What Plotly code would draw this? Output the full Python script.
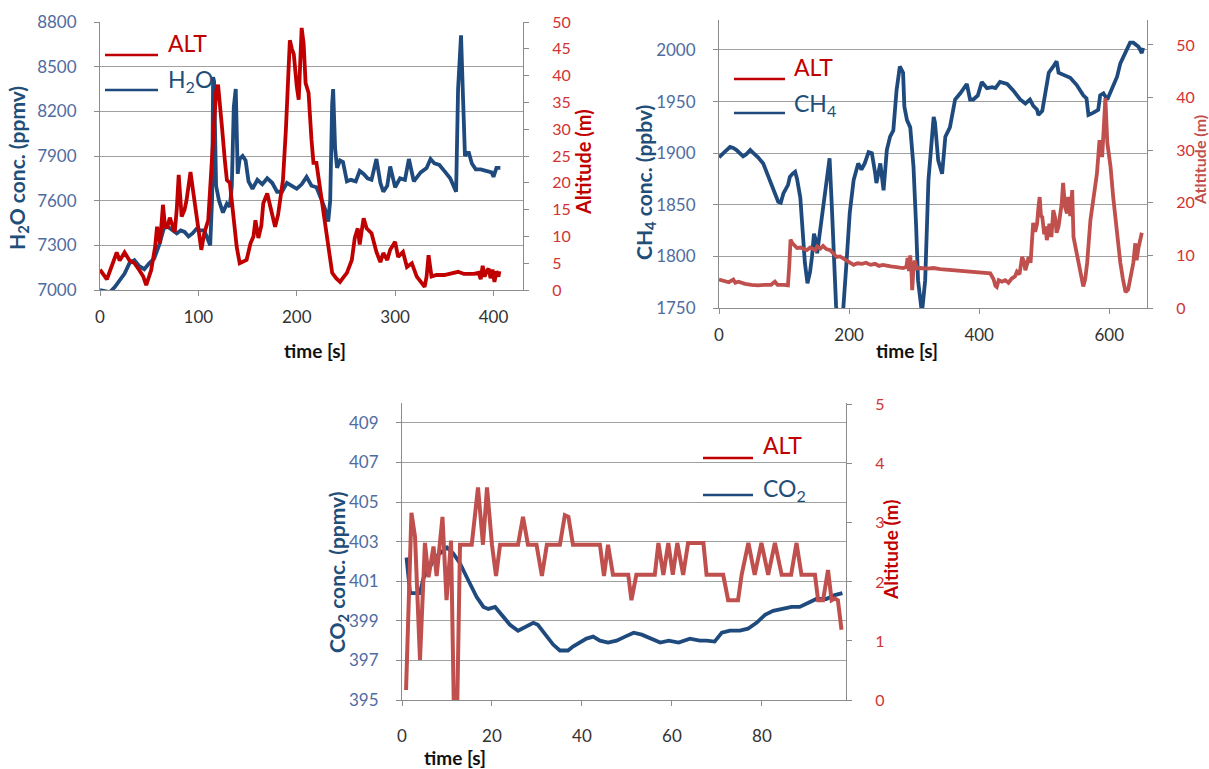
import plotly.graph_objects as go

W, H = 1209, 769

# ---------------- H2O flight ----------------
h2o_time = [0, 5, 10, 15, 20, 25, 30, 35, 40, 45,
            50, 55, 60, 63, 66, 70, 74, 78, 82, 86,
            90, 94, 98, 102, 106, 109, 112, 114, 115, 116,
            118, 121, 125, 129, 132, 134, 136, 138, 140, 142,
            145, 148, 151, 155, 160, 165, 170, 175, 180, 185,
            190, 195, 200, 205, 210, 215, 220, 225, 229, 232,
            234, 236, 237, 239, 241, 244, 247, 251, 255, 260,
            264, 268, 272, 276, 281, 285, 288, 292, 295, 300,
            305, 310, 314, 319, 323, 326, 332, 336, 340, 345,
            350, 356, 360, 362, 364, 366, 367, 369, 371, 373,
            375, 378, 382, 387, 393, 398, 400, 403, 407]
h2o_ppmv = [7000, 6990, 6985, 7020, 7060, 7110, 7180, 7200, 7160, 7140,
            7180, 7210, 7300, 7380, 7440, 7420, 7400, 7380, 7400, 7390,
            7360, 7380, 7410, 7400, 7400, 7340, 7300, 7620, 8430, 8400,
            7700, 7600, 7520, 7580, 7560, 7700, 8230, 8350, 7780, 7880,
            7900, 7870, 7730, 7680, 7740, 7710, 7750, 7720, 7660, 7660,
            7720, 7700, 7680, 7710, 7760, 7700, 7690, 7610, 7540, 7460,
            7600, 8250, 8350, 7950, 7820, 7870, 7860, 7730, 7740, 7730,
            7800, 7780, 7750, 7740, 7880, 7720, 7660, 7700, 7830, 7690,
            7750, 7740, 7880, 7730, 7770, 7790, 7820, 7880, 7850, 7840,
            7800, 7750, 7690, 7660, 8350, 8550, 8710, 8300, 7900, 7920,
            7920, 7850, 7810, 7810, 7800, 7790, 7760, 7820, 7820]

h2o_alt_time = [0, 3, 7, 10, 13, 17, 20, 25, 30, 35,
                40, 44, 47, 50, 52, 56, 58, 61, 64, 66,
                68, 71, 73, 76, 78, 80, 83, 86, 88, 92,
                95, 98, 100, 103, 106, 110, 113, 116, 118, 120,
                122, 124, 127, 129, 132, 135, 137, 139, 142, 146,
                149, 153, 156, 158, 161, 164, 166, 170, 173, 175,
                178, 181, 183, 186, 189, 191, 193, 195, 197, 200,
                202, 205, 207, 209, 212, 215, 217, 220, 222, 224,
                227, 230, 232, 236, 240, 244, 248, 251, 256, 259,
                262, 264, 266, 268, 271, 276, 281, 285, 288, 292,
                295, 300, 303, 308, 312, 317, 322, 327, 330, 332,
                334, 337, 342, 350, 356, 364, 370, 380, 385, 387,
                389, 391, 393, 395, 397, 399, 401, 403, 405, 406]
h2o_alt_m = [3.8, 3.0, 2.0, 3.5, 5.0, 7.0, 5.5, 7.0, 5.5, 5.0,
             3.7, 2.5, 0.9, 2.5, 3.7, 8.0, 11.8, 8.7, 15.9, 12.0,
             11.5, 13.5, 12.5, 10.8, 15.0, 21.5, 13.7, 15.0, 16.8, 22.0,
             18.0, 14.0, 11.2, 7.5, 10.6, 13.0, 22.0, 33.0, 37.0, 38.3,
             35.0, 30.4, 24.0, 20.5, 20.0, 14.3, 10.0, 8.0, 5.0, 5.3,
             5.6, 8.7, 10.0, 13.0, 9.7, 12.0, 16.2, 18.0, 15.5, 13.7,
             11.8, 14.0, 16.8, 20.5, 30.0, 40.0, 46.6, 45.0, 44.0, 38.0,
             35.5, 48.9, 46.0, 38.6, 36.8, 28.0, 23.7, 23.7, 21.0, 19.0,
             14.3, 10.0, 8.0, 3.2, 2.2, 1.5, 2.5, 3.2, 5.6, 9.7,
             11.5, 8.5, 11.0, 13.4, 11.5, 10.6, 7.1, 5.2, 6.9, 5.6,
             7.5, 9.0, 6.2, 7.1, 4.3, 5.0, 2.5, 1.3, 0.6, 2.5,
             6.5, 2.5, 2.8, 2.8, 3.0, 3.4, 3.0, 3.0, 3.2, 2.0,
             4.5, 2.5, 3.5, 4.0, 2.2, 3.8, 1.5, 3.5, 2.5, 3.5]

# ---------------- CH4 flight ----------------
ch4_time = [0, 4, 10, 17, 22, 27, 32, 37, 42, 48,
            53, 60, 68, 76, 84, 91, 95, 99, 106, 109,
            113, 117, 120, 122, 125, 128, 132, 136, 140, 143,
            146, 149, 151, 155, 160, 164, 166, 170, 173, 176,
            180, 185, 190, 196, 201, 207, 209, 214, 219, 224,
            230, 235, 240, 242, 248, 253, 258, 263, 268, 273,
            278, 283, 285, 289, 294, 299, 303, 306, 312, 317,
            322, 326, 330, 332, 337, 343, 348, 355, 363, 371,
            378, 381, 386, 391, 398, 404, 412, 420, 425, 432,
            443, 452, 463, 471, 478, 483, 489, 491, 497, 502,
            507, 514, 519, 522, 529, 540, 550, 560, 565, 568,
            575, 583, 586, 591, 597, 604, 612, 617, 625, 632,
            637, 645, 650, 652]
ch4_ppbv = [1896, 1898, 1902, 1906, 1905, 1903, 1900, 1897, 1899, 1903,
            1900, 1896, 1890, 1877, 1864, 1853, 1852, 1861, 1869, 1877,
            1880, 1882, 1875, 1867, 1857, 1830, 1794, 1774, 1785, 1800,
            1822, 1815, 1803, 1823, 1848, 1867, 1874, 1895, 1855, 1809,
            1752, 1725, 1740, 1794, 1842, 1874, 1879, 1890, 1884, 1890,
            1901, 1900, 1881, 1871, 1890, 1864, 1903, 1916, 1922, 1961,
            1984, 1978, 1945, 1932, 1925, 1887, 1830, 1777, 1745, 1777,
            1874, 1906, 1935, 1930, 1893, 1880, 1916, 1925, 1952, 1958,
            1964, 1967, 1952, 1952, 1956, 1969, 1963, 1964, 1963, 1969,
            1967, 1961, 1952, 1948, 1952, 1946, 1942, 1937, 1941, 1958,
            1978, 1984, 1989, 1978, 1976, 1973, 1966, 1956, 1953, 1937,
            1939, 1942, 1956, 1958, 1952, 1963, 1974, 1987, 1997, 2007,
            2007, 2003, 1997, 2002]

ch4_alt_time = [0, 5, 10, 15, 22, 25, 30, 40, 50, 60,
                70, 80, 86, 90, 100, 106, 108, 110, 113, 116,
                120, 125, 130, 135, 140, 143, 148, 151, 156, 160,
                165, 171, 176, 181, 186, 190, 196, 202, 207, 213,
                220, 226, 233, 240, 246, 252, 258, 264, 270, 276,
                283, 288, 290, 292, 294, 296, 297, 299, 301, 304,
                310, 320, 330, 340, 350, 360, 370, 380, 390, 400,
                410, 417, 422, 425, 427, 430, 435, 440, 445, 450,
                455, 458, 462, 466, 469, 471, 474, 476, 479, 481,
                483, 486, 489, 491, 493, 495, 497, 500, 502, 504,
                506, 508, 511, 514, 517, 519, 522, 525, 527, 529,
                532, 535, 537, 540, 543, 545, 549, 553, 557, 560,
                563, 566, 571, 576, 581, 585, 587, 589, 591, 594,
                597, 600, 602, 606, 609, 612, 617, 621, 625, 629,
                632, 637, 640, 642, 645, 648, 650]
ch4_alt_m = [5.4, 5.2, 5.0, 4.9, 5.4, 4.8, 5.0, 4.6, 4.4, 4.3,
             4.4, 4.4, 5.0, 4.4, 4.4, 4.3, 8.0, 13.0, 12.3, 12.0,
             11.4, 11.5, 11.2, 11.0, 11.5, 11.3, 11.0, 11.7, 11.3, 11.8,
             11.2, 11.0, 10.3, 9.7, 9.8, 9.5, 9.1, 8.7, 8.2, 8.5,
             8.4, 8.6, 8.2, 8.4, 8.0, 8.2, 8.0, 7.9, 7.8, 7.7,
             7.6, 7.8, 9.5, 7.0, 10.0, 6.5, 3.4, 7.5, 9.0, 7.5,
             7.6, 7.5, 7.6, 7.4, 7.3, 7.2, 7.0, 7.0, 6.9, 6.8,
             6.7, 6.6, 5.5, 4.2, 4.0, 5.3, 5.0, 5.3, 4.8, 5.6,
             6.0, 6.9, 6.4, 9.7, 8.8, 7.2, 8.5, 9.7, 8.6, 12.3,
             16.2, 14.5, 16.0, 19.0, 21.1, 17.5, 17.3, 14.0, 15.5, 12.9,
             14.5, 16.0, 13.5, 18.6, 17.0, 14.3, 15.5, 17.8, 20.0, 23.8,
             19.2, 18.0, 21.1, 17.5, 22.4, 13.5, 11.0, 8.6, 6.5, 4.1,
             5.5, 8.6, 16.7, 21.0, 25.5, 31.9, 30.0, 28.7, 33.0, 39.9,
             31.4, 29.0, 26.8, 21.1, 17.5, 14.8, 8.6, 5.5, 3.0, 3.5,
             5.3, 8.6, 12.3, 9.1, 11.5, 13.5, 14.3]

# ---------------- CO2 flight ----------------
co2_time = [1.0, 1.8, 2.5, 3.3, 4.0, 4.7, 5.5, 6.2, 7.0, 8.4,
            10.0, 11.4, 12.9, 14.4, 15.1, 16.6, 18.1, 19.2, 20.7, 22.2,
            24.0, 25.8, 27.3, 29.2, 30.2, 32.2, 33.6, 35.1, 36.9, 38.0,
            39.5, 41.0, 42.5, 44.0, 45.8, 47.7, 49.6, 51.5, 53.3, 55.2,
            57.4, 59.3, 61.5, 64.0, 66.2, 67.7, 69.5, 71.1, 72.9, 75.1,
            76.9, 78.8, 80.7, 82.5, 84.4, 86.6, 88.4, 90.3, 92.1, 94.3,
            96.2, 97.9]
co2_ppmv = [402.2, 400.4, 400.4, 400.4, 400.4, 401.1, 401.5, 401.7, 402.1, 402.4,
            402.7, 402.4, 401.9, 401.2, 400.9, 400.2, 399.7, 399.6, 399.7, 399.3,
            398.8, 398.5, 398.7, 398.9, 398.8, 398.2, 397.8, 397.5, 397.5, 397.7,
            397.9, 398.1, 398.2, 398.0, 397.9, 398.0, 398.2, 398.4, 398.3, 398.1,
            397.9, 398.0, 397.9, 398.1, 398.0, 398.0, 397.95, 398.4, 398.5, 398.5,
            398.6, 398.9, 399.3, 399.5, 399.6, 399.7, 399.7, 399.9, 400.1, 400.1,
            400.3, 400.4]

co2_alt_time = [0.9, 2.1, 2.9, 4.0, 5.1, 5.9, 7.0, 7.7, 9.0, 9.9,
                10.9, 11.5, 12.3, 12.9, 15.5, 16.9, 18.0, 18.9, 20.0, 20.9,
                21.8, 25.8, 26.9, 28.0, 29.9, 31.1, 32.2, 35.1, 36.2, 37.0,
                38.0, 44.0, 44.9, 45.8, 46.9, 50.3, 51.0, 52.1, 56.2, 57.0,
                58.1, 59.2, 60.2, 61.2, 62.5, 63.6, 67.0, 67.7, 71.4, 72.5,
                74.7, 75.5, 77.0, 78.4, 79.9, 81.4, 82.9, 84.4, 86.5, 87.7,
                88.8, 91.8, 92.5, 93.6, 94.7, 95.5, 96.2, 96.9, 97.7]
co2_alt_m = [0.17, 3.17, 2.76, 0.68, 2.66, 2.08, 2.60, 2.10, 3.10, 1.69,
             2.70, 0.0, 0.0, 2.63, 2.63, 3.60, 2.63, 3.60, 2.63, 2.10,
             2.63, 2.63, 3.10, 2.63, 2.63, 2.10, 2.63, 2.63, 3.13, 3.10,
             2.63, 2.63, 2.10, 2.63, 2.12, 2.12, 1.69, 2.12, 2.12, 2.66,
             2.12, 2.66, 2.12, 2.66, 2.12, 2.66, 2.66, 2.12, 2.12, 1.69,
             1.69, 2.12, 2.66, 2.12, 2.66, 2.12, 2.66, 2.12, 2.12, 2.66,
             2.12, 2.12, 1.69, 1.69, 2.20, 1.69, 1.72, 1.69, 1.19]

# ---------------- styling ----------------
FONT = "Lato"
BLUE = "#1f4a7d"
RED_DARK = "#c00000"
RED_SOFT = "#c0504d"
TICK_BLUE = "#4f6ca0"
TICK_RED = "#d03434"
GRID = "#a0a0a0"
AXLINE = "#8c8c8c"


def fx(p):
    return p / W


def fy(p):
    return 1 - p / H


def xaxis(domain, anchor, rng, tickvals, standoff):
    return dict(domain=domain, anchor=anchor, range=rng, tickvals=tickvals,
                ticks="outside", ticklen=5, tickcolor=AXLINE, showline=True,
                linecolor=AXLINE, linewidth=1, showgrid=False, zeroline=False,
                ticklabelstandoff=standoff, automargin=False,
                tickfont=dict(family=FONT, size=17, color="#333333"))


def yleft(domain, anchor, rng, tickvals):
    return dict(domain=domain, anchor=anchor, range=rng, tickvals=tickvals,
                ticks="outside", ticklen=5, tickcolor=AXLINE, showline=True,
                linecolor=AXLINE, linewidth=1, showgrid=True, gridcolor=GRID,
                gridwidth=1, zeroline=False, ticklabelstandoff=14,
                automargin=False,
                tickfont=dict(family=FONT, size=17, color=TICK_BLUE))


def yright(overlay, anchor, rng, tickvals, color=TICK_RED):
    return dict(overlaying=overlay, anchor=anchor, side="right", range=rng,
                tickvals=tickvals, ticks="outside", ticklen=5, tickcolor=AXLINE,
                showline=True, linecolor=AXLINE, linewidth=1, showgrid=False,
                zeroline=False, ticklabelstandoff=20, automargin=False,
                tickfont=dict(family=FONT, size=16, color=color))


fig = go.Figure()

# concentrations (primary axes)
fig.add_trace(go.Scatter(x=h2o_time, y=h2o_ppmv, xaxis="x", yaxis="y",
                         mode="lines", line=dict(color=BLUE, width=3.8)))
fig.add_trace(go.Scatter(x=ch4_time, y=ch4_ppbv, xaxis="x2", yaxis="y3",
                         mode="lines", line=dict(color=BLUE, width=3.8)))
fig.add_trace(go.Scatter(x=co2_time, y=co2_ppmv, xaxis="x3", yaxis="y5",
                         mode="lines", line=dict(color=BLUE, width=3.8)))
# altitudes (secondary axes)
fig.add_trace(go.Scatter(x=h2o_alt_time, y=h2o_alt_m, xaxis="x", yaxis="y2",
                         mode="lines", line=dict(color=RED_DARK, width=3.8)))
fig.add_trace(go.Scatter(x=ch4_alt_time, y=ch4_alt_m, xaxis="x2", yaxis="y4",
                         mode="lines", line=dict(color=RED_SOFT, width=3.8)))
fig.add_trace(go.Scatter(x=co2_alt_time, y=co2_alt_m, xaxis="x3", yaxis="y6",
                         mode="lines", line=dict(color=RED_SOFT, width=4)))

# panel frames (pixel positions -> paper fractions)
tl_x = [fx(100), fx(523)]
tl_y = [fy(290), fy(22)]
tr_x = [fx(719), fx(1147)]
tr_y = [fy(308), fy(20)]
bt_x = [fx(402), fx(846)]
bt_y = [fy(700), fy(403)]

fig.update_layout(
    width=W, height=H,
    margin=dict(l=0, r=0, t=0, b=0, pad=0, autoexpand=False),
    paper_bgcolor="white", plot_bgcolor="white", showlegend=False,
    xaxis=xaxis(tl_x, "y", [0, 430], [0, 100, 200, 300, 400], 7),
    yaxis=yleft(tl_y, "x", [7000, 8800], list(range(7000, 8801, 300))),
    yaxis2=yright("y", "x", [0, 50], list(range(0, 51, 5))),
    xaxis2=xaxis(tr_x, "y3", [0, 658], [0, 200, 400, 600], 7),
    yaxis3=yleft(tr_y, "x2", [1750, 2029], list(range(1750, 2001, 50))),
    yaxis4=yright("y3", "x2", [0, 54.75], list(range(0, 51, 10))),
    xaxis3=xaxis(bt_x, "y5", [0, 98.7], [0, 20, 40, 60, 80], 16),
    yaxis5=yleft(bt_y, "x3", [395, 410], list(range(395, 410, 2))),
    yaxis6=yright("y5", "x3", [0, 5.03], [0, 1, 2, 3, 4, 5]),
)

ann = []


def title(text, xp, yp, color, angle=0, size=19):
    ann.append(dict(text=text, x=fx(xp), y=fy(yp), xref="paper", yref="paper",
                    showarrow=False, textangle=angle, xanchor="center",
                    yanchor="middle",
                    font=dict(family=FONT, size=size, color=color, weight="bold")))


title("H<sub>2</sub>O conc. (ppmv)", 18, 168, "#1f4e79", -90, 21)
title("Altitude (m)", 583, 162, RED_DARK, -90, 20)
title("time [s]", 315, 350, "#111111")
title("CH<sub>4</sub> conc. (ppbv)", 645, 183, "#1f4e79", -90, 21)
title("Atltitude (m)", 1199, 160, RED_SOFT, -90, 16)
title("time [s]", 907, 350, "#111111")
title("CO<sub>2</sub> conc. (ppmv)", 338, 572, "#1f4e79", -90, 21)
title("Altitude (m)", 890, 550, RED_DARK, -90, 19)
title("time [s]", 455, 757, "#111111")

# legends: line sample + label
shapes = []


def legend_item(label, color, text_color, x0, x1, y_line, x_text, y_text):
    shapes.append(dict(type="line", xref="paper", yref="paper",
                       x0=fx(x0), x1=fx(x1), y0=fy(y_line), y1=fy(y_line),
                       line=dict(color=color, width=2.5)))
    ann.append(dict(text=label, x=fx(x_text), y=fy(y_text), xref="paper",
                    yref="paper", showarrow=False, xanchor="left",
                    yanchor="middle",
                    font=dict(family=FONT, size=23, color=text_color)))


legend_item("ALT", RED_DARK, RED_DARK, 105, 158, 55, 166, 43)
legend_item("H<sub>2</sub>O", BLUE, "#1f4e79", 105, 158, 90, 166, 80)
legend_item("ALT", RED_DARK, RED_DARK, 734, 785, 79, 792, 67)
legend_item("CH<sub>4</sub>", BLUE, "#1f4e79", 734, 785, 113, 792, 104)
legend_item("ALT", RED_DARK, RED_DARK, 703, 753, 458, 761, 445)
legend_item("CO<sub>2</sub>", BLUE, "#1f4e79", 703, 753, 495, 761, 489)

fig.update_layout(annotations=ann, shapes=shapes)

fig.write_html("out.html")
